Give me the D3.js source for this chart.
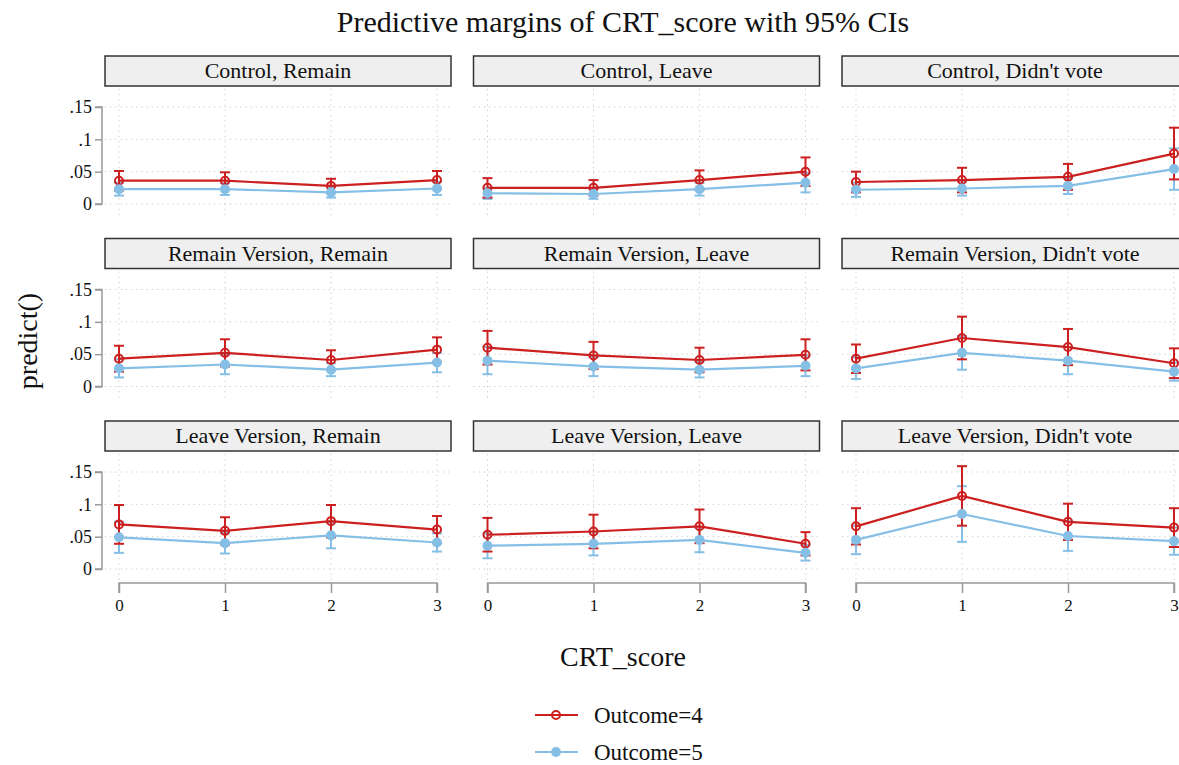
<!DOCTYPE html>
<html><head><meta charset="utf-8">
<script src="https://cdn.jsdelivr.net/npm/d3@7"></script>
<style>body{margin:0;background:#fff}</style>
</head><body>
<svg id="c" width="1179" height="765"></svg>
<script>
const crtScores = [0, 1, 2, 3];
const yTicks = [0, 0.05, 0.1, 0.15];
const yTickLabels = ["0", ".05", ".1", ".15"];
const panelTitles = [
  "Control, Remain", "Control, Leave", "Control, Didn't vote",
  "Remain Version, Remain", "Remain Version, Leave", "Remain Version, Didn't vote",
  "Leave Version, Remain", "Leave Version, Leave", "Leave Version, Didn't vote"
];
const seriesNames = ["Outcome=4", "Outcome=5"];

// Outcome=4 (red)
const out4Est = [
  [.036,.036,.028,.037],[.025,.025,.037,.050],[.034,.037,.042,.078],
  [.043,.052,.041,.057],[.060,.048,.041,.049],[.043,.075,.061,.036],
  [.069,.059,.074,.061],[.053,.058,.066,.039],[.066,.113,.073,.064]
];
const out4Lo = [
  [.021,.023,.017,.023],[.010,.013,.022,.028],[.018,.018,.022,.038],
  [.023,.031,.026,.038],[.034,.027,.022,.025],[.021,.042,.033,.013],
  [.039,.038,.049,.040],[.027,.032,.040,.021],[.038,.067,.045,.034]
];
const out4Hi = [
  [.051,.049,.039,.051],[.040,.037,.052,.072],[.050,.056,.062,.118],
  [.063,.073,.056,.076],[.086,.069,.060,.073],[.065,.108,.089,.059],
  [.099,.080,.099,.082],[.079,.084,.092,.057],[.094,.159,.101,.094]
];
// Outcome=5 (blue)
const out5Est = [
  [.023,.023,.018,.024],[.0166,.0155,.023,.033],[.022,.024,.028,.054],
  [.028,.034,.026,.037],[.040,.031,.026,.032],[.028,.052,.040,.023],
  [.049,.040,.052,.041],[.036,.039,.045,.025],[.045,.085,.051,.043]
];
const out5Lo = [
  [.013,.014,.010,.014],[.008,.008,.013,.018],[.011,.013,.0155,.022],
  [.014,.019,.016,.022],[.019,.016,.014,.016],[.0115,.026,.019,.009],
  [.025,.024,.032,.027],[.0166,.021,.026,.013],[.023,.042,.028,.022]
];
const out5Hi = [
  [.033,.032,.026,.034],[.025,.023,.033,.048],[.033,.035,.040,.086],
  [.042,.049,.036,.052],[.061,.046,.038,.048],[.045,.078,.061,.037],
  [.073,.056,.072,.055],[.055,.057,.064,.037],[.067,.128,.074,.064]
];

const RED = "#cc1f1f", BLUE = "#86bfe6";
const FONT = "'Liberation Serif', 'DejaVu Serif', serif";
const svg = d3.select("#c");

svg.append("text").attr("x", 623).attr("y", 32).attr("text-anchor", "middle")
  .attr("font-family", FONT).attr("font-size", 30).attr("fill", "#111")
  .text("Predictive margins of CRT_score with 95% CIs");

const colX0 = 119, colPitch = 368.5, xSpan = 318;
const rowY0 = 204, rowPitch = 182.5, ySpan = 97;

panelTitles.forEach((title, i) => {
  const col = i % 3, row = Math.floor(i / 3);
  const x = d3.scaleLinear().domain([0, 3]).range([colX0 + col * colPitch, colX0 + col * colPitch + xSpan]);
  const y = d3.scaleLinear().domain([0, 0.15]).range([rowY0 + row * rowPitch, rowY0 + row * rowPitch - ySpan]);
  const g = svg.append("g");
  const left = x(0) - 14, right = x(3) + 14;
  const hTop = y(0.15) - 51, hBot = y(0.15) - 21;

  // header strip
  g.append("rect").attr("x", left).attr("y", hTop).attr("width", right - left).attr("height", hBot - hTop)
    .attr("fill", "#efefef").attr("stroke", "#333").attr("stroke-width", 1.5);
  g.append("text").attr("x", (left + right) / 2).attr("y", hTop + 22).attr("text-anchor", "middle")
    .attr("font-family", FONT).attr("font-size", 22).attr("fill", "#111").text(title);

  // grid
  const bottom = y(0) + 14;
  g.selectAll("line.hg").data(yTicks).join("line")
    .attr("x1", left).attr("x2", right).attr("y1", d => y(d)).attr("y2", d => y(d))
    .attr("stroke", "#c8c8c8").attr("stroke-width", 1).attr("stroke-dasharray", "1.2,4");
  g.selectAll("line.vg").data(crtScores).join("line")
    .attr("x1", d => x(d)).attr("x2", d => x(d)).attr("y1", hBot + 3).attr("y2", bottom)
    .attr("stroke", "#c8c8c8").attr("stroke-width", 1).attr("stroke-dasharray", "1.2,4");

  // y axis
  if (col === 0) {
    const ax = d3.axisLeft(y).tickValues(yTicks).tickFormat((d, k) => yTickLabels[k]).tickSize(7).tickPadding(3);
    const ag = g.append("g").attr("transform", `translate(${x(0) - 17},0)`).call(ax);
    ag.select(".domain").attr("stroke", "#999").attr("stroke-width", 1.5).attr("d", `M-7,${y(0.15)}H0V${y(0)}H-7`);
    ag.selectAll(".tick line").attr("stroke", "#999").attr("stroke-width", 1.5);
    ag.selectAll(".tick text").attr("font-family", FONT).attr("font-size", 18).attr("fill", "#111");
  }
  // x axis
  if (row === 2) {
    const ax = d3.axisBottom(x).tickValues(crtScores).tickFormat(d3.format("d")).tickSize(10).tickPadding(6);
    const ag = g.append("g").attr("transform", `translate(0,${y(0) + 14})`).call(ax);
    ag.select(".domain").attr("stroke", "#999").attr("stroke-width", 1.5).attr("d", `M${x(0)},10V0H${x(3)}V10`);
    ag.selectAll(".tick line").attr("stroke", "#999").attr("stroke-width", 1.5);
    ag.selectAll(".tick text").attr("font-family", FONT).attr("font-size", 17).attr("fill", "#111");
  }

  const series = [
    {est: out5Est[i], lo: out5Lo[i], hi: out5Hi[i], color: BLUE, hollow: false},
    {est: out4Est[i], lo: out4Lo[i], hi: out4Hi[i], color: RED, hollow: true}
  ];
  // CIs
  series.forEach(s => {
    const cg = g.append("g").attr("stroke", s.color).attr("stroke-width", 2);
    crtScores.forEach((c, k) => {
      cg.append("line").attr("x1", x(c)).attr("x2", x(c)).attr("y1", y(s.lo[k])).attr("y2", y(s.hi[k]));
      cg.append("line").attr("x1", x(c) - 5).attr("x2", x(c) + 5).attr("y1", y(s.lo[k])).attr("y2", y(s.lo[k]));
      cg.append("line").attr("x1", x(c) - 5).attr("x2", x(c) + 5).attr("y1", y(s.hi[k])).attr("y2", y(s.hi[k]));
    });
  });
  // lines + markers
  [series[1], series[0]].forEach(s => {
    const line = d3.line().x((d, k) => x(crtScores[k])).y(d => y(d));
    g.append("path").attr("d", line(s.est)).attr("fill", "none").attr("stroke", s.color).attr("stroke-width", 2.2);
    g.selectAll(null).data(s.est).join("circle")
      .attr("cx", (d, k) => x(crtScores[k])).attr("cy", d => y(d))
      .attr("r", s.hollow ? 4 : 5)
      .attr("fill", s.hollow ? "none" : s.color)
      .attr("stroke", s.color).attr("stroke-width", s.hollow ? 2 : 0);
  });
});

// axis titles
svg.append("text").attr("transform", "translate(37,341) rotate(-90)").attr("text-anchor", "middle")
  .attr("font-family", FONT).attr("font-size", 28).attr("fill", "#111").text("predict()");
svg.append("text").attr("x", 623).attr("y", 666).attr("text-anchor", "middle")
  .attr("font-family", FONT).attr("font-size", 28).attr("fill", "#111").text("CRT_score");

// legend
const legend = [{name: seriesNames[0], color: RED, hollow: true, y: 715}, {name: seriesNames[1], color: BLUE, hollow: false, y: 752}];
legend.forEach(l => {
  svg.append("line").attr("x1", 535).attr("x2", 578).attr("y1", l.y).attr("y2", l.y)
    .attr("stroke", l.color).attr("stroke-width", 2.2);
  svg.append("circle").attr("cx", 556).attr("cy", l.y).attr("r", l.hollow ? 4 : 5)
    .attr("fill", l.hollow ? "none" : l.color).attr("stroke", l.color).attr("stroke-width", l.hollow ? 2 : 0);
  svg.append("text").attr("x", 594).attr("y", l.y + 8).attr("font-family", FONT).attr("font-size", 23)
    .attr("fill", "#111").text(l.name);
});
</script>
</body></html>
